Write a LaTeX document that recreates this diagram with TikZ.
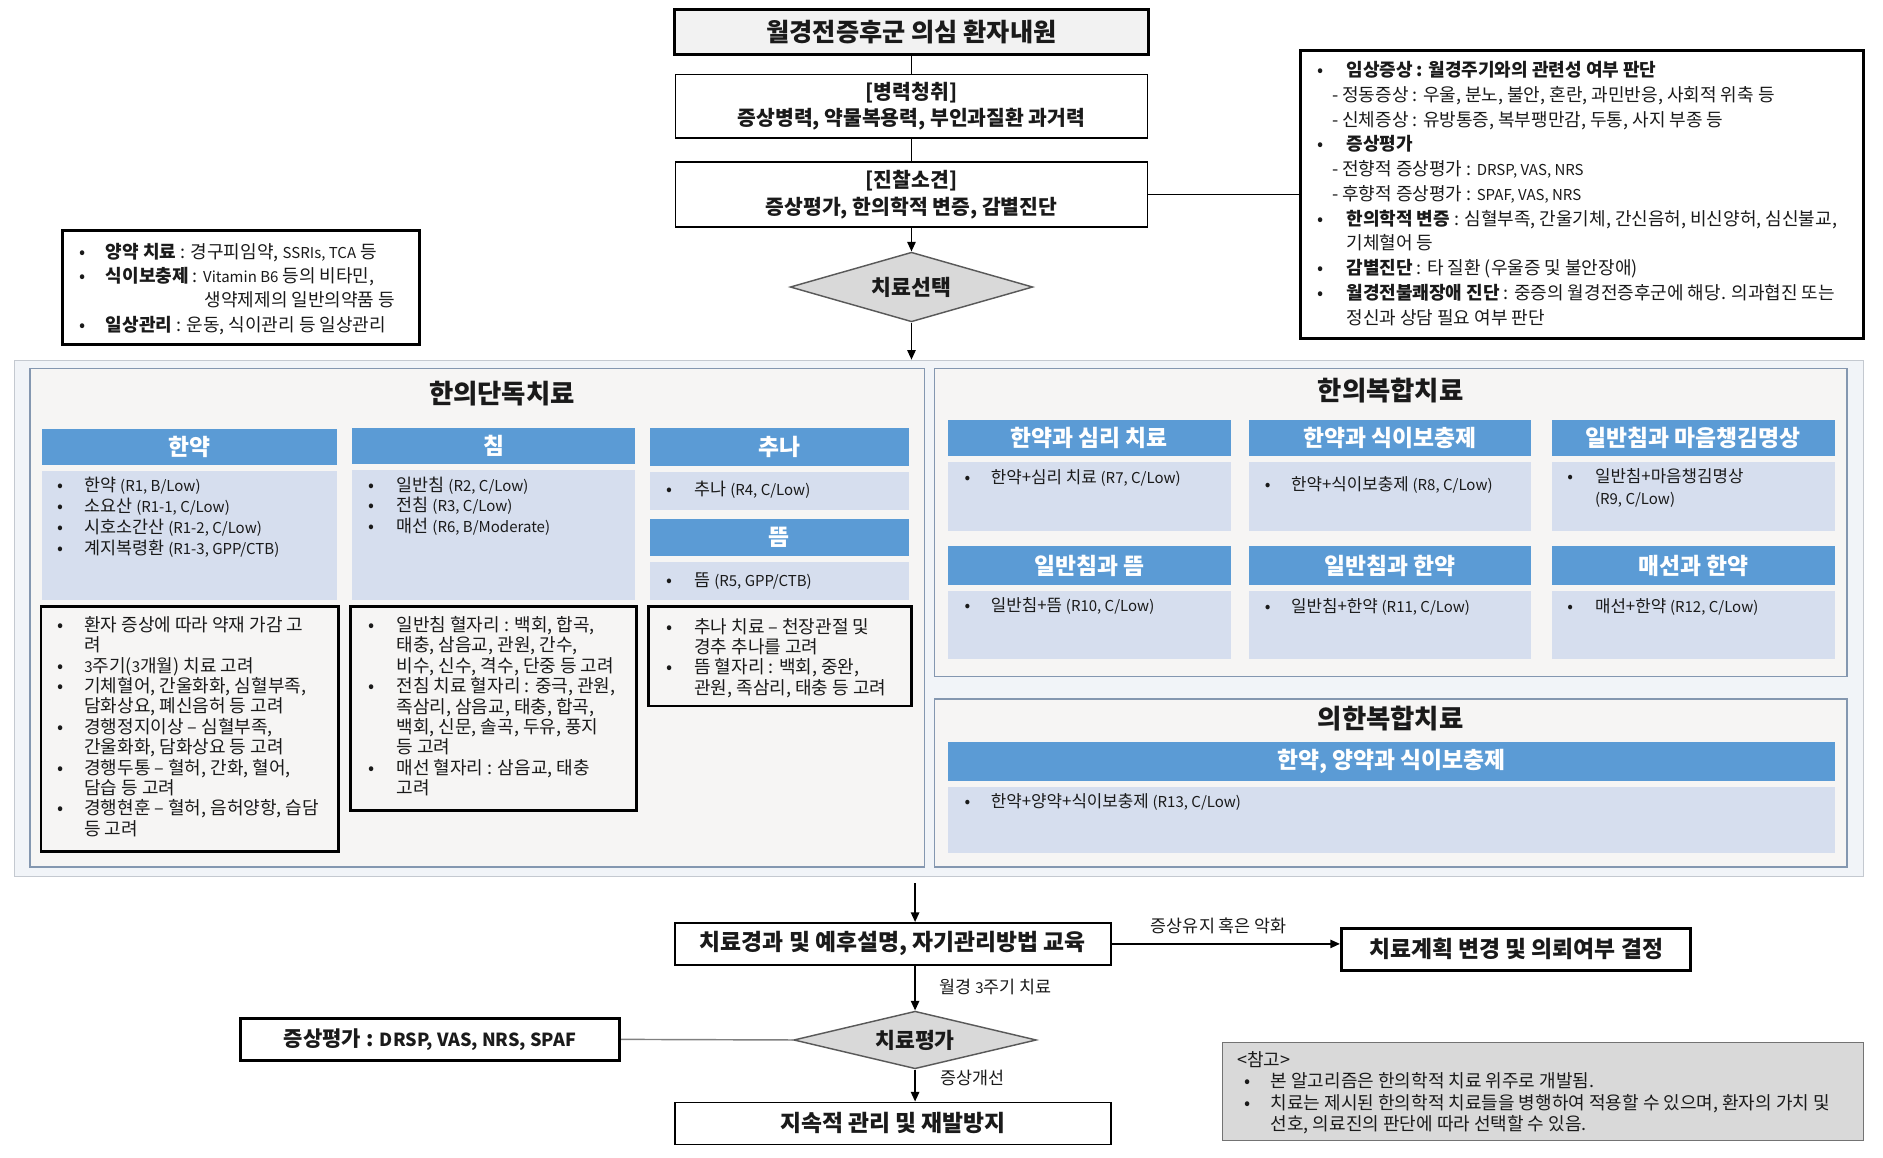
\documentclass[tikz,border=0pt]{standalone}
\usepackage{fontspec}
\setmainfont{Noto Sans CJK KR}
\usetikzlibrary{shapes.geometric,arrows.meta}
\definecolor{hdr}{HTML}{5B9BD5}
\definecolor{cnt}{HTML}{D6DEEE}
\definecolor{pnl}{HTML}{F6F5F4}
\definecolor{pnlb}{HTML}{8497B0}
\definecolor{outerf}{HTML}{F1F4F8}
\definecolor{outerb}{HTML}{C4C9D0}
\definecolor{dgray}{HTML}{D9D9D9}
\definecolor{boxg}{HTML}{F2F2F2}
\definecolor{txt}{HTML}{1A1A1A}
\newcommand{\lbul}[1][24pt]{\makebox[#1][l]{•}}
\newcommand{\lind}{\hspace*{22pt}}
\newcommand{\lsm}[1]{{\fontsize{12.5}{12.5}\selectfont #1}}
\tikzset{
 box/.style={draw=black, line width=1.2pt, fill=white, inner sep=0pt, align=center, text=txt, font=\bfseries\fontsize{17}{22}\selectfont},
 thickbox/.style={box, line width=2.5pt},
 dia/.style={diamond, aspect=3.5, draw=black!65, line width=1.2pt, fill=dgray, inner sep=0pt, text=txt, font=\bfseries\fontsize{18}{20}\selectfont},
 hdrbox/.style={fill=hdr, inner sep=0pt, text=white, font=\bfseries\fontsize{19}{21}\selectfont},
 cntbox/.style={fill=cnt, inner sep=0pt},
 notebox/.style={draw=black, line width=2pt, fill=pnl, inner sep=0pt},
 panel/.style={draw=pnlb, line width=1pt, fill=pnl, inner sep=0pt},
 lst/.style={inner sep=0pt, anchor=north west, align=left, text=txt, font=\fontsize{15}{17}\selectfont},
 itm/.style={lst, font=\fontsize{14}{18}\selectfont},
 lab/.style={inner sep=0pt, text=txt, font=\fontsize{14.5}{16}\selectfont},
 arr/.style={-{Triangle[length=8pt,width=7pt]}, line width=1.2pt},
 ln/.style={line width=1.2pt},
 ptitle/.style={inner sep=0pt, text=txt, font=\bfseries\fontsize{22}{24}\selectfont},
}
\begin{document}
\begin{tikzpicture}[x=1pt,y=-1pt]
\useasboundingbox (0,0) rectangle (1568,964);
\fill[white] (0,0) rectangle (1568,964);

% ---------- background panels
\node[draw=outerb, fill=outerf, line width=1pt, minimum width=1540, minimum height=430, inner sep=0pt] (outer) at (782,515) {};
\node[panel, minimum width=745, minimum height=415] (lp) at (397.5,514.5) {};
\node[panel, minimum width=760, minimum height=256] (rp1) at (1158,435) {};
\node[panel, minimum width=760, minimum height=140] (rp2) at (1158,652) {};

% ---------- top flow
\node[thickbox, fill=boxg, minimum width=395, minimum height=37, font=\bfseries\fontsize{21}{23}\selectfont] (b1) at (759,26.5) {월경전증후군 의심 환자내원};
\node[box, minimum width=393, minimum height=53] (b2) at (759,88.5) {[병력청취]\\증상병력, 약물복용력, 부인과질환 과거력};
\node[box, minimum width=393, minimum height=54] (b3) at (759,162) {[진찰소견]\\증상평가, 한의학적 변증, 감별진단};
\node[dia, minimum width=202, minimum height=58] (d1) at (759,239) {치료선택};
\draw[ln] (b1) -- (b2);
\draw[ln] (b2) -- (b3);
\draw[arr] (b3) -- (d1);
\draw[arr] (d1.south) -- (d1.south |- outer.north);

% ---------- right info box
\node[thickbox, minimum width=469, minimum height=240] (rb) at (1317.5,162) {};
\node[lst, font=\fontsize{15}{20.6}\selectfont] (rbt) at (1097,51) {%
\lbul{\bfseries 임상증상 : 월경주기와의 관련성 여부 판단}\\
\hspace*{12pt}- 정동증상 : 우울, 분노, 불안, 혼란, 과민반응, 사회적 위축 등\\
\hspace*{12pt}- 신체증상 : 유방통증, 복부팽만감, 두통, 사지 부종 등\\
\lbul{\bfseries 증상평가}\\
\hspace*{12pt}- 전향적 증상평가 : \lsm{DRSP, VAS, NRS}\\
\hspace*{12pt}- 후향적 증상평가 : \lsm{SPAF, VAS, NRS}\\
\lbul{\bfseries 한의학적 변증} : 심혈부족, 간울기체, 간신음허, 비신양허, 심신불교,\\
\hspace*{24pt}기체혈어 등\\
\lbul{\bfseries 감별진단} : 타 질환 (우울증 및 불안장애)\\
\lbul{\bfseries 월경전불쾌장애 진단} : 중증의 월경전증후군에 해당. 의과협진 또는\\
\hspace*{24pt}정신과 상담 필요 여부 판단};
\draw[ln] (b3.east) -- (b3.east -| rb.west);

% ---------- left info box
\node[thickbox, minimum width=297, minimum height=95] (lb) at (200.5,239.5) {};
\node[lst, font=\fontsize{15}{20.3}\selectfont] (lbt) at (66,202) {%
\lbul[22pt]{\bfseries 양약 치료} : 경구피임약, \lsm{SSRIs, TCA} 등\\
\lbul[22pt]{\bfseries 식이보충제} : \lsm{Vitamin B6} 등의 비타민,\\
\hspace*{22pt}\phantom{\bfseries 식이보충제 : }생약제제의 일반의약품 등\\
\lbul[22pt]{\bfseries 일상관리} : 운동, 식이관리 등 일상관리};

% ---------- 한의단독치료
\node[ptitle] (t1) at (418,328) {한의단독치료};
\node[hdrbox, minimum width=246, minimum height=30] (h1) at (158,372) {한약};
\node[cntbox, minimum width=246, minimum height=108] (c1) at (158,446) {};
\node[lst, font=\fontsize{14.5}{17.4}\selectfont] (c1t) at (48,397) {%
\lbul[22pt]한약 \lsm{(R1, B/Low)}\\
\lbul[22pt]소요산 \lsm{(R1-1, C/Low)}\\
\lbul[22pt]시호소간산 \lsm{(R1-2, C/Low)}\\
\lbul[22pt]계지복령환 \lsm{(R1-3, GPP/CTB)}};
\node[notebox, minimum width=248, minimum height=204] (n1) at (158,607) {};
\node[lst] (n1t) at (48,513) {%
\lbul[22pt]환자 증상에 따라 약재 가감 고\\
\lind 려\\
\lbul[22pt]\lsm{3}주기(\lsm{3}개월) 치료 고려\\
\lbul[22pt]기체혈어, 간울화화, 심혈부족,\\
\lind 담화상요, 폐신음허 등 고려\\
\lbul[22pt]경행정지이상 – 심혈부족,\\
\lind 간울화화, 담화상요 등 고려\\
\lbul[22pt]경행두통 – 혈허, 간화, 혈어,\\
\lind 담습 등 고려\\
\lbul[22pt]경행현훈 – 혈허, 음허양항, 습담\\
\lind 등 고려};

\node[hdrbox, minimum width=236, minimum height=30] (h2) at (411,371) {침};
\node[cntbox, minimum width=236, minimum height=109] (c2) at (411,445.5) {};
\node[lst, font=\fontsize{14.5}{17}\selectfont] (c2t) at (307,397) {%
\lbul[23pt]일반침 \lsm{(R2, C/Low)}\\
\lbul[23pt]전침 \lsm{(R3, C/Low)}\\
\lbul[23pt]매선 \lsm{(R6, B/Moderate)}};
\node[notebox, minimum width=238, minimum height=170] (n2) at (411,590) {};
\node[lst] (n2t) at (307,513) {%
\lbul[23pt]일반침 혈자리 : 백회, 합곡,\\
\hspace*{23pt}태충, 삼음교, 관원, 간수,\\
\hspace*{23pt}비수, 신수, 격수, 단중 등 고려\\
\lbul[23pt]전침 치료 혈자리 : 중극, 관원,\\
\hspace*{23pt}족삼리, 삼음교, 태충, 합곡,\\
\hspace*{23pt}백회, 신문, 솔곡, 두유, 풍지\\
\hspace*{23pt}등 고려\\
\lbul[23pt]매선 혈자리 : 삼음교, 태충\\
\hspace*{23pt}고려};

\node[hdrbox, minimum width=216, minimum height=32] (h3) at (649,372) {추나};
\node[cntbox, minimum width=216, minimum height=32] (c3) at (649,409) {};
\node[lst, anchor=west, font=\fontsize{14.5}{17}\selectfont] (c3t) at (555,408) {\lbul[23pt]추나 \lsm{(R4, C/Low)}};
\node[hdrbox, minimum width=216, minimum height=31] (h4) at (649,447.5) {뜸};
\node[cntbox, minimum width=216, minimum height=32] (c4) at (649,484) {};
\node[lst, anchor=west, font=\fontsize{14.5}{17}\selectfont] (c4t) at (555,484) {\lbul[23pt]뜸 \lsm{(R5, GPP/CTB)}};
\node[notebox, minimum width=219, minimum height=83] (n3) at (649.5,546.5) {};
\node[lst, font=\fontsize{15}{16.8}\selectfont] (n3t) at (555,515) {%
\lbul[23pt]추나 치료 – 천장관절 및\\
\hspace*{23pt}경추 추나를 고려\\
\lbul[23pt]뜸 혈자리 : 백회, 중완,\\
\hspace*{23pt}관원, 족삼리, 태충 등 고려};

% ---------- 한의복합치료
\node[ptitle] (t2) at (1158,325) {한의복합치료};
\node[hdrbox, minimum width=236, minimum height=30] (h5) at (907,365) {한약과 심리 치료};
\node[hdrbox, minimum width=235, minimum height=30] (h6) at (1157.5,365) {한약과 식이보충제};
\node[hdrbox, minimum width=236, minimum height=30] (h7) at (1410,365) {일반침과 마음챙김명상};
\node[cntbox, minimum width=236, minimum height=57] (c5) at (907,413.5) {};
\node[cntbox, minimum width=235, minimum height=57] (c6) at (1157.5,413.5) {};
\node[cntbox, minimum width=236, minimum height=57] (c7) at (1410,413.5) {};
\node[itm] (c5t) at (803,391) {\lbul[22pt]한약+심리 치료 \lsm{(R7, C/Low)}};
\node[itm] (c6t) at (1053,397) {\lbul[22pt]한약+식이보충제 \lsm{(R8, C/Low)}};
\node[itm] (c7t) at (1305,390) {\lbul[23pt]일반침+마음챙김명상\\\hspace*{23pt}\lsm{(R9, C/Low)}};
\node[hdrbox, minimum width=236, minimum height=32] (h8) at (907,471) {일반침과 뜸};
\node[hdrbox, minimum width=235, minimum height=32] (h9) at (1157.5,471) {일반침과 한약};
\node[hdrbox, minimum width=236, minimum height=32] (h10) at (1410,471) {매선과 한약};
\node[cntbox, minimum width=236, minimum height=57] (c8) at (907,520.5) {};
\node[cntbox, minimum width=235, minimum height=57] (c9) at (1157.5,520.5) {};
\node[cntbox, minimum width=236, minimum height=57] (c10) at (1410,520.5) {};
\node[itm] (c8t) at (803,497) {\lbul[22pt]일반침+뜸 \lsm{(R10, C/Low)}};
\node[itm] (c9t) at (1053,498) {\lbul[22pt]일반침+한약 \lsm{(R11, C/Low)}};
\node[itm] (c10t) at (1305,498) {\lbul[23pt]매선+한약 \lsm{(R12, C/Low)}};

% ---------- 의한복합치료
\node[ptitle] (t3) at (1158,598) {의한복합치료};
\node[hdrbox, minimum width=739, minimum height=32] (h11) at (1158.5,634) {한약, 양약과 식이보충제};
\node[cntbox, minimum width=739, minimum height=55] (c11) at (1158.5,682.5) {};
\node[itm] (c11t) at (803,661) {\lbul[22pt]한약+양약+식이보충제 \lsm{(R13, C/Low)}};

% ---------- bottom flow
\node[box, line width=1.5pt, minimum width=363, minimum height=35, font=\bfseries\fontsize{19}{21}\selectfont] (b4) at (743.5,786) {치료경과 및 예후설명, 자기관리방법 교육};
\node[thickbox, minimum width=291, minimum height=35, font=\bfseries\fontsize{19}{21}\selectfont] (b5) at (1262.5,790.5) {치료계획 변경 및 의뢰여부 결정};
\node[dia, minimum width=202, minimum height=48] (d2) at (762,866) {치료평가};
\node[thickbox, minimum width=316, minimum height=35, font=\bfseries\fontsize{17.5}{19}\selectfont] (b6) at (358,865.5) {증상평가 : {\fontsize{15}{17}\selectfont DRSP, VAS, NRS, SPAF}};
\node[box, line width=1.5pt, minimum width=363, minimum height=35, font=\bfseries\fontsize{19}{21}\selectfont] (b7) at (743.5,935.5) {지속적 관리 및 재발방지};
\node[draw=black!55, fill=dgray, line width=1pt, minimum width=534, minimum height=82, inner sep=0pt] (b8) at (1285,909) {};
\node[lst, font=\fontsize{15}{18}\selectfont] (b8t) at (1030,875) {%
<참고>\\
\hspace*{6pt}\lbul[22pt]본 알고리즘은 한의학적 치료 위주로 개발됨.\\
\hspace*{6pt}\lbul[22pt]치료는 제시된 한의학적 치료들을 병행하여 적용할 수 있으며, 환자의 가치 및\\
\hspace*{28pt}선호, 의료진의 판단에 따라 선택할 수 있음.};

\draw[arr, shorten <=5pt] (outer.south -| d2.north) -- (b4.north -| d2.north);
\draw[arr] (b4.east) -- (b4.east -| b5.west);
\node[lab] (l1) at (1015,771) {증상유지 혹은 악화};
\draw[arr] (b4.south -| d2.north) -- (d2.north);
\node[lab, anchor=west] (l2) at (782,822) {월경 \lsm{3}주기 치료};
\draw[ln, draw=black!50] (b6.east) -- (d2.west);
\draw[arr] (d2.south) -- (d2.south |- b7.north);
\node[lab, anchor=west] (l3) at (783,898) {증상개선};
\end{tikzpicture}
\end{document}
